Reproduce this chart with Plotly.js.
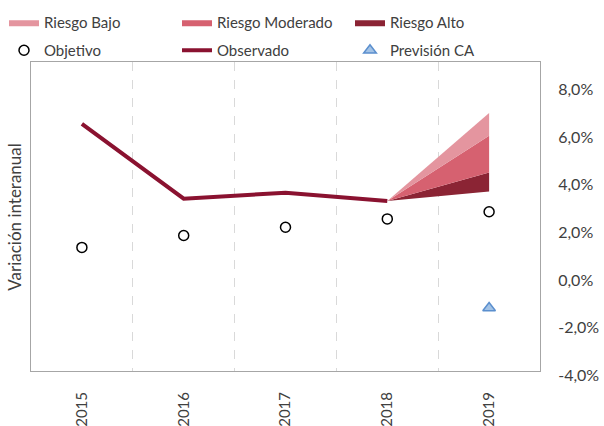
<!DOCTYPE html>
<html>
<head>
<meta charset="utf-8">
<script src="https://cdn.plot.ly/plotly-3.0.1.min.js"></script>
<style>
  body { margin: 0; background: #fff; }
  #chart { width: 604px; height: 426px; }
</style>
</head>
<body>
<div id="chart"></div>
<script>
var years = ['2015', '2016', '2017', '2018', '2019'];
var observado = [6.4, 3.25, 3.5, 3.15];
var objetivo = [1.2, 1.7, 2.05, 2.4, 2.7];
var prevision = [-1.35];

// fan chart from 2018 to 2019
var fanYears = ['2018', '2019'];
var fanBase = [3.15, 3.55];
var fanAlto = [3.15, 4.35];
var fanModerado = [3.15, 5.9];
var fanBajo = [3.15, 6.85];

var yTicks = [-4, -2, 0, 2, 4, 6, 8];
var yTickText = ['-4,0%', '-2,0%', '0,0%', '2,0%', '4,0%', '6,0%', '8,0%'];

var txt = '#404040';

var data = [
  {
    x: fanYears, y: fanBase, type: 'scatter', mode: 'lines',
    line: { width: 0 }, showlegend: false, hoverinfo: 'skip'
  },
  {
    x: fanYears, y: fanAlto, type: 'scatter', mode: 'lines', name: 'Riesgo Alto',
    fill: 'tonexty', fillcolor: '#8b2434', line: { width: 0, color: '#8b2434' },
    legend: 'legend3'
  },
  {
    x: fanYears, y: fanModerado, type: 'scatter', mode: 'lines', name: 'Riesgo Moderado',
    fill: 'tonexty', fillcolor: '#d66170', line: { width: 0, color: '#d66170' },
    legend: 'legend2'
  },
  {
    x: fanYears, y: fanBajo, type: 'scatter', mode: 'lines', name: 'Riesgo Bajo',
    fill: 'tonexty', fillcolor: '#e4959f', line: { width: 0, color: '#e4959f' },
    legend: 'legend'
  },
  {
    x: years, y: objetivo, type: 'scatter', mode: 'markers', name: 'Objetivo',
    marker: { symbol: 'circle-open', size: 10, color: '#000', line: { width: 1.5, color: '#000' } },
    legend: 'legend4'
  },
  {
    x: years.slice(0, 4), y: observado, type: 'scatter', mode: 'lines', name: 'Observado',
    line: { color: '#8a1230', width: 4 },
    legend: 'legend5'
  },
  {
    x: ['2019'], y: prevision, type: 'scatter', mode: 'markers', name: 'Previsión CA',
    marker: { symbol: 'triangle-up', size: 11, color: '#a3c3e6', line: { width: 1.5, color: '#5b8fce' } },
    legend: 'legend6'
  }
];

function legendAt(xl, yt) {
  return {
    orientation: 'h',
    xref: 'container', yref: 'container',
    x: xl / 604, y: 1 - yt / 426, xanchor: 'left', yanchor: 'top',
    font: { size: 15, color: txt },
    bgcolor: 'rgba(0,0,0,0)'
  };
}

var layout = {
  width: 604,
  height: 426,
  margin: { l: 31, r: 64, t: 62, b: 55, autoexpand: false },
  paper_bgcolor: '#fff',
  plot_bgcolor: '#fff',
  font: { family: 'Lato, "Open Sans", sans-serif', size: 16, color: txt },
  showlegend: true,
  legend: legendAt(4, 6),
  legend2: legendAt(177, 6),
  legend3: legendAt(350, 6),
  legend4: legendAt(4, 34),
  legend5: legendAt(177, 34),
  legend6: legendAt(350, 34),
  xaxis: {
    type: 'category',
    categoryorder: 'array',
    categoryarray: years,
    range: [-0.5, 4.5],
    tickson: 'boundaries',
    showgrid: true,
    gridcolor: '#d9d9d9',
    griddash: 'dash',
    gridwidth: 1,
    ticks: '',
    tickangle: -90,
    ticklabelstandoff: 14,
    tickfont: { size: 15, color: txt },
    showline: true, linecolor: '#a6a6a6', linewidth: 1, mirror: true,
    zeroline: false,
    fixedrange: true
  },
  yaxis: {
    side: 'right',
    range: [-4, 9],
    tickvals: yTicks,
    ticktext: yTickText,
    ticklabelstandoff: 14,
    ticklabelshift: 4,
    showgrid: false,
    zeroline: false,
    ticks: '',
    tickfont: { size: 16, color: txt },
    showline: true, linecolor: '#a6a6a6', linewidth: 1, mirror: true,
    fixedrange: true
  },
  annotations: [{
    text: 'Variación interanual',
    xref: 'paper', yref: 'paper',
    x: -0.033, y: 0.5,
    xanchor: 'center', yanchor: 'middle',
    textangle: -90,
    showarrow: false,
    font: { size: 17, color: txt }
  }]
};

Plotly.newPlot('chart', data, layout, { displayModeBar: false, staticPlot: true });
</script>
</body>
</html>
